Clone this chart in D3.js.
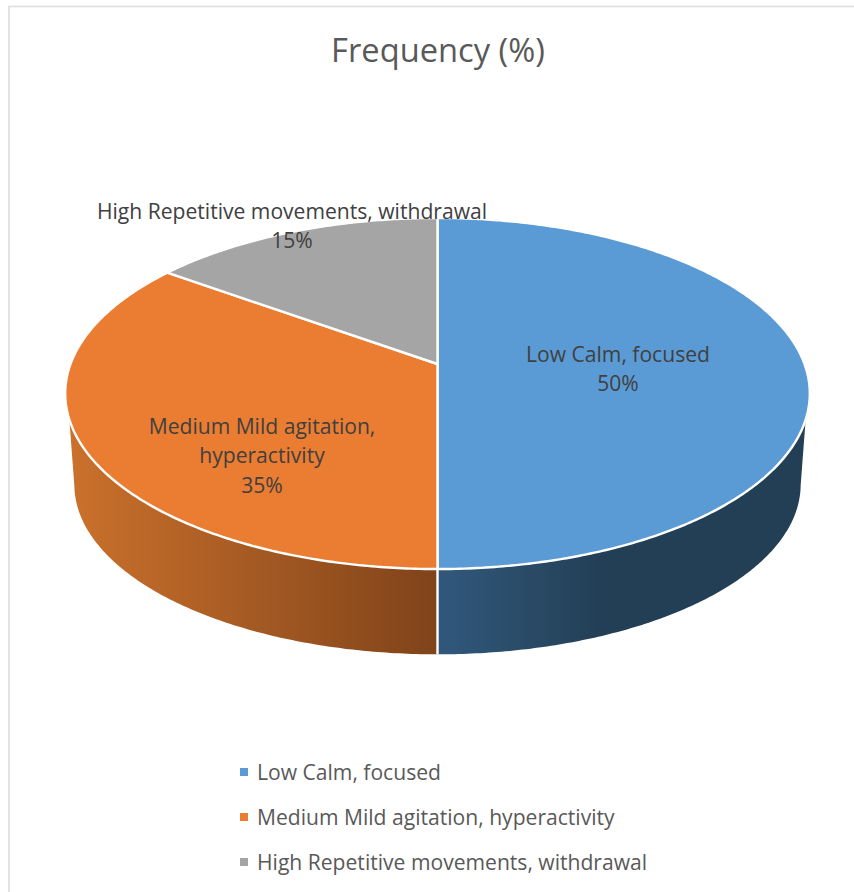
<!DOCTYPE html>
<html>
<head>
<meta charset="utf-8">
<style>
  html, body { margin: 0; padding: 0; background: #fff; }
  svg { display: block; }
  text { font-family: "Open Sans", "Noto Sans", sans-serif; }
</style>
<script src="https://cdn.jsdelivr.net/npm/d3@7/dist/d3.min.js"></script>
</head>
<body>
<svg id="chart" width="854" height="892"></svg>
<script>
const chartTitle = "Frequency (%)";
const categories = ["Low Calm, focused", "Medium Mild agitation, hyperactivity", "High Repetitive movements, withdrawal"];
const frequency = [50, 35, 15];
const labelLines = [
  ["Low Calm, focused", "50%"],
  ["Medium Mild agitation,", "hyperactivity", "35%"],
  ["High Repetitive movements, withdrawal", "15%"]
];
const labelAnchors = [[618, 354], [262, 426], [292, 211]];
const topColors = ["#5B9BD5", "#EB7D32", "#A5A5A5"];
const sideStops = [
  [["0%", "#31587C"], ["44%", "#233F56"], ["100%", "#233F56"]],
  [["0%", "#CB712C"], ["100%", "#80431A"]]
];

const svg = d3.select("#chart");
const defs = svg.append("defs");

// Perspective of a tilted disc: far edge is compressed, near edge is stretched.
const tilt = 0.168;
const topDisc = { x: 437.5, y: 364, rx: 367, ry: 170.6 };
const baseDisc = { x: 437.5, y: 456, rx: 358, ry: 165 };

function project(disc, angle) {
  const u = Math.sin(angle), v = -Math.cos(angle);
  const w = 1 - tilt * v;
  return [disc.x + disc.rx * u / w, disc.y + disc.ry * v / w];
}

function arcPoints(disc, from, to) {
  const steps = Math.max(2, Math.ceil(Math.abs(to - from) / 0.01));
  return d3.range(steps + 1).map(i => project(disc, from + (to - from) * i / steps));
}

const line = d3.line();
const arcs = d3.pie().sort(null).value(d => d)(frequency);

// Angles at which each disc's outline turns away from the viewer.
const rimFrontTop = 108 * Math.PI / 180;
const rimFrontBase = 100 * Math.PI / 180;
const tau = 2 * Math.PI;

// Extruded wall: only the part of each slice facing the viewer is painted.
const walls = [
  { from: rimFrontTop, to: arcs[0].endAngle, fromBase: rimFrontBase, x1: 437.5, x2: 809 },
  { from: arcs[1].startAngle, to: tau - rimFrontTop, toBase: tau - rimFrontBase, x1: 67, x2: 437.5 }
];

walls.forEach((wall, i) => {
  const grad = defs.append("linearGradient")
    .attr("id", "wall" + i)
    .attr("gradientUnits", "userSpaceOnUse")
    .attr("x1", wall.x1).attr("x2", wall.x2)
    .attr("y1", 0).attr("y2", 0);
  sideStops[i].forEach(s => grad.append("stop").attr("offset", s[0]).attr("stop-color", s[1]));

  const upper = arcPoints(topDisc, wall.from, wall.to);
  const lower = arcPoints(baseDisc, wall.toBase ?? wall.to, wall.fromBase ?? wall.from);
  svg.append("path")
    .attr("d", line(upper.concat(lower)) + "Z")
    .attr("fill", `url(#wall${i})`);
});

// Divider on the wall between the two front slices.
const seam = arcs[0].endAngle;
svg.append("path")
  .attr("d", line([project(topDisc, seam), project(baseDisc, seam)]))
  .attr("stroke", "#fff").attr("stroke-width", 2.4).attr("fill", "none");

// Top face of the pie.
svg.append("g").selectAll("path")
  .data(arcs)
  .join("path")
  .attr("d", d => line([[topDisc.x, topDisc.y]].concat(arcPoints(topDisc, d.startAngle, d.endAngle))) + "Z")
  .attr("fill", (d, i) => topColors[i])
  .attr("stroke", "#fff")
  .attr("stroke-width", 2.4)
  .attr("stroke-linejoin", "round");

// Chart frame: only the top and left edges show.
svg.append("path").attr("d", "M9 892V6.5H854").attr("fill", "none").attr("stroke", "#DCDCDC").attr("stroke-width", 1.6);

svg.append("text")
  .attr("x", 438).attr("y", 62)
  .attr("text-anchor", "middle")
  .attr("font-size", 32.7)
  .attr("fill", "#595959")
  .text(chartTitle);

// Data labels.
const labelSize = 21.1;
svg.append("g").selectAll("text")
  .data(labelLines)
  .join("text")
  .attr("text-anchor", "middle")
  .attr("font-size", labelSize)
  .attr("fill", "#404040")
  .each(function (lines, i) {
    d3.select(this).selectAll("tspan")
      .data(lines)
      .join("tspan")
      .attr("x", labelAnchors[i][0])
      .attr("y", (d, k) => labelAnchors[i][1] + 7.5 + k * 29.7)
      .text(d => d);
  });

// Legend.
const legendY = d3.scalePoint().domain(categories).range([772, 862]);
const legend = svg.append("g").selectAll("g")
  .data(categories)
  .join("g")
  .attr("transform", d => `translate(240,${legendY(d)})`);
legend.append("rect")
  .attr("x", 0).attr("y", -4).attr("width", 8).attr("height", 8)
  .attr("fill", (d, i) => topColors[i]);
legend.append("text")
  .attr("x", 17).attr("y", 7.5)
  .attr("font-size", labelSize)
  .attr("fill", "#595959")
  .text(d => d);
</script>
</body>
</html>
